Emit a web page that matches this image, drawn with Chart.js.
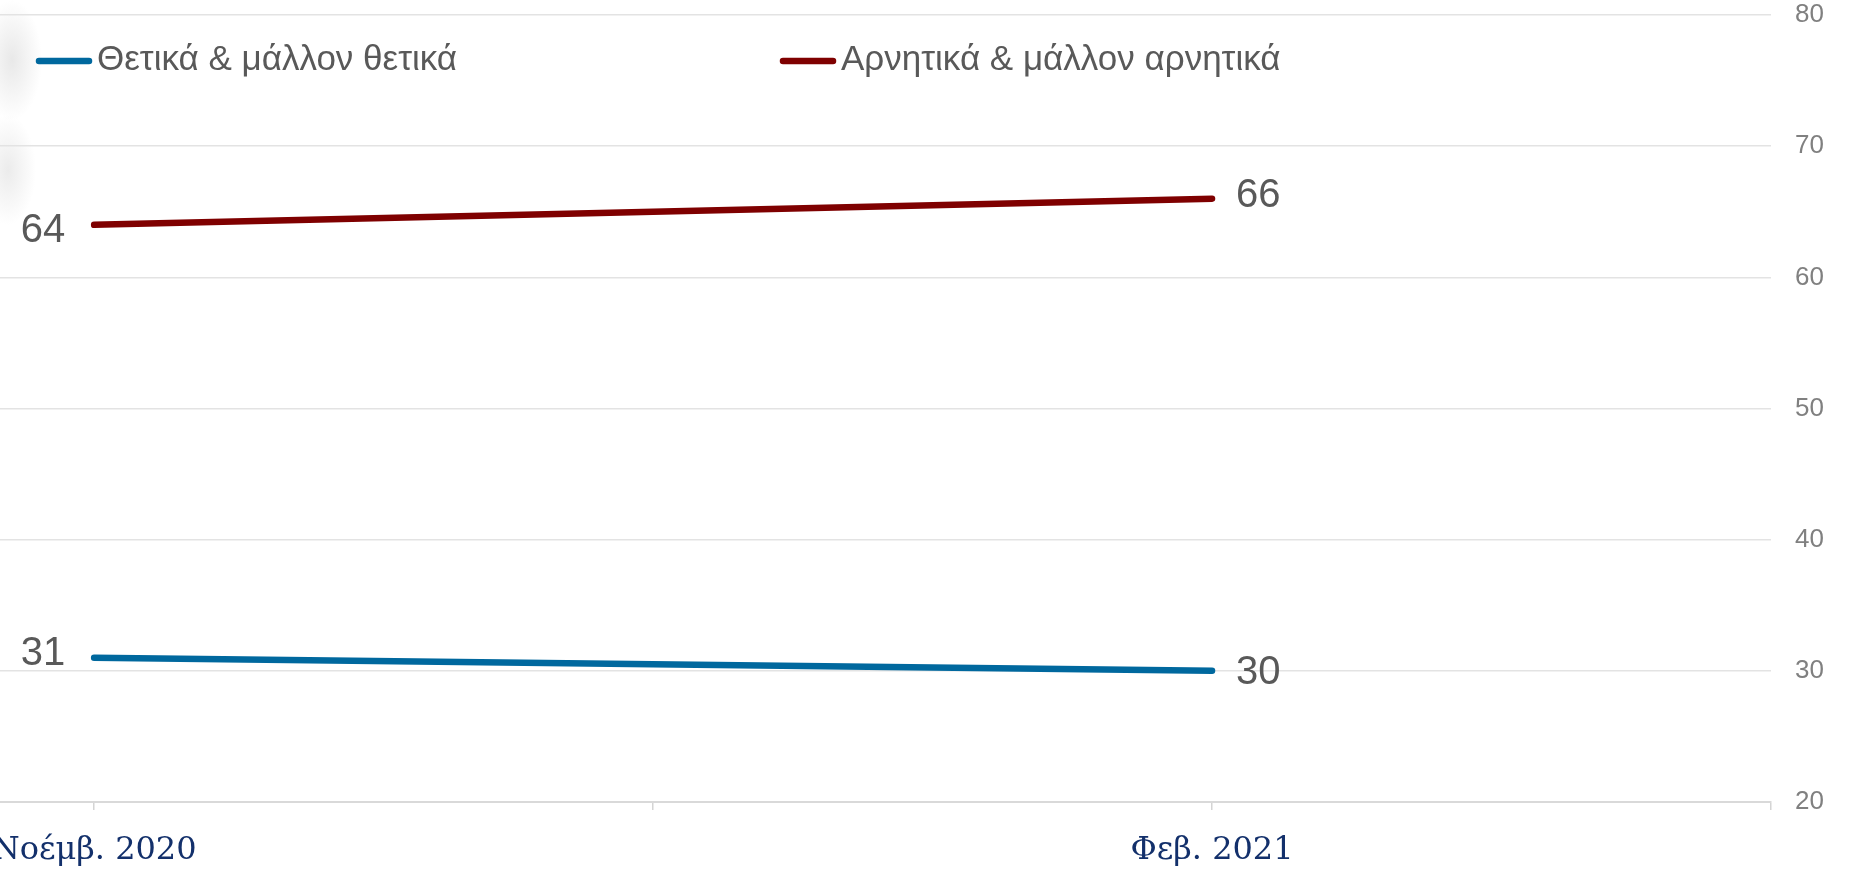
<!DOCTYPE html>
<html>
<head>
<meta charset="utf-8">
<script src="https://cdn.jsdelivr.net/npm/chart.js@4/dist/chart.umd.min.js"></script>
<style>
  html, body { margin: 0; padding: 0; background: #ffffff; overflow: hidden; }
  #wrap {
    width: 1852px; height: 871px; position: relative;
    background:
      radial-gradient(ellipse 30px 60px at 12px 60px, rgba(190,190,190,0.35), rgba(255,255,255,0) 100%),
      radial-gradient(ellipse 28px 55px at 8px 170px, rgba(190,190,190,0.30), rgba(255,255,255,0) 100%),
      #ffffff;
  }
  canvas { display: block; }
</style>
</head>
<body>
<div id="wrap"><canvas id="c"></canvas></div>
<script>
// ---- data ----
const categories = ['Νοέμβ. 2020', 'Φεβ. 2021'];
const seriesLabels = ['Θετικά & μάλλον θετικά', 'Αρνητικά & μάλλον αρνητικά'];
const positiveValues = [31, 30];
const negativeValues = [64, 66];
const yTickValues = [20, 30, 40, 50, 60, 70, 80];
const xTickValues = [0, 0.5, 1, 1.5];

const seriesColors = ['#00689e', '#7f0000'];

function toPoints(vals) { return vals.map((v, i) => ({ x: i, y: v })); }

// legend drawn inside the chart area
const overlayLegend = {
  id: 'overlayLegend',
  afterDraw(chart) {
    const ctx = chart.ctx;
    const slots = [36, 780];
    const y = 61;
    ctx.save();
    chart.data.datasets.forEach((ds, i) => {
      const x0 = slots[i];
      ctx.strokeStyle = ds.borderColor;
      ctx.lineWidth = 6.5;
      ctx.lineCap = 'round';
      ctx.beginPath();
      ctx.moveTo(x0 + 3, y);
      ctx.lineTo(x0 + 53, y);
      ctx.stroke();
      ctx.fillStyle = '#595959';
      ctx.font = '35px "Liberation Sans", Arial, sans-serif';
      ctx.textAlign = 'left';
      ctx.textBaseline = 'middle';
      ctx.fillText(ds.label, x0 + 61, y - 1);
    });
    ctx.restore();
  }
};

// value labels next to the end points (small vertical nudges per label)
const nudges = [[-4, 2], [6, -3]];
const endLabels = {
  id: 'endLabels',
  afterDatasetsDraw(chart) {
    const ctx = chart.ctx;
    ctx.save();
    ctx.fillStyle = '#595959';
    ctx.font = '40px "Liberation Sans", Arial, sans-serif';
    ctx.textBaseline = 'middle';
    chart.data.datasets.forEach((ds, di) => {
      const meta = chart.getDatasetMeta(di);
      meta.data.forEach((pt, i) => {
        const v = ds.data[i].y;
        const dy = nudges[di][i];
        if (i === 0) {
          ctx.textAlign = 'right';
          ctx.fillText(String(v), pt.x - 29, pt.y + dy);
        } else {
          ctx.textAlign = 'left';
          ctx.fillText(String(v), pt.x + 24, pt.y + dy);
        }
      });
    });
    ctx.restore();
  }
};

new Chart(document.getElementById('c'), {
  type: 'line',
  data: {
    datasets: [
      {
        label: seriesLabels[0],
        data: toPoints(positiveValues),
        borderColor: seriesColors[0],
        backgroundColor: seriesColors[0],
        borderWidth: 6.5,
        borderCapStyle: 'round',
        pointRadius: 0,
        tension: 0
      },
      {
        label: seriesLabels[1],
        data: toPoints(negativeValues),
        borderColor: seriesColors[1],
        backgroundColor: seriesColors[1],
        borderWidth: 6.5,
        borderCapStyle: 'round',
        pointRadius: 0,
        tension: 0
      }
    ]
  },
  options: {
    responsive: true,
    maintainAspectRatio: false,
    animation: false,
    layout: { padding: { left: 0, right: 28, top: 15, bottom: 0 } },
    plugins: {
      legend: { display: false },
      tooltip: { enabled: false }
    },
    scales: {
      x: {
        type: 'linear',
        min: -0.0842,
        max: 1.5,
        afterBuildTicks: (axis) => { axis.ticks = xTickValues.map(v => ({ value: v })); },
        afterFit: (axis) => { axis.paddingLeft = 0; axis.paddingRight = 0; axis.height = 69; },
        grid: {
          drawOnChartArea: false,
          drawTicks: true,
          tickLength: 8,
          color: '#d4d4d4',
          lineWidth: 1.5
        },
        border: { display: true, color: '#d9d9d9', width: 2 },
        ticks: {
          autoSkip: false,
          maxRotation: 0,
          padding: 21,
          color: '#13306b',
          font: { family: '"DejaVu Serif", "Liberation Serif", serif', size: 32 },
          callback: (v) => Number.isInteger(v) && categories[v] !== undefined ? categories[v] : ''
        }
      },
      y: {
        position: 'right',
        min: 20,
        max: 80,
        afterBuildTicks: (axis) => { axis.ticks = yTickValues.map(v => ({ value: v })); },
        afterFit: (axis) => { axis.paddingTop = 0; axis.paddingBottom = 0; axis.width = 53; },
        grid: { color: '#e3e3e3', lineWidth: 1.5, drawTicks: false },
        border: { display: false },
        ticks: {
          padding: 24,
          color: '#808080',
          font: { family: '"Liberation Sans", Arial, sans-serif', size: 26 }
        }
      }
    }
  },
  plugins: [endLabels, overlayLegend]
});
</script>
</body>
</html>
